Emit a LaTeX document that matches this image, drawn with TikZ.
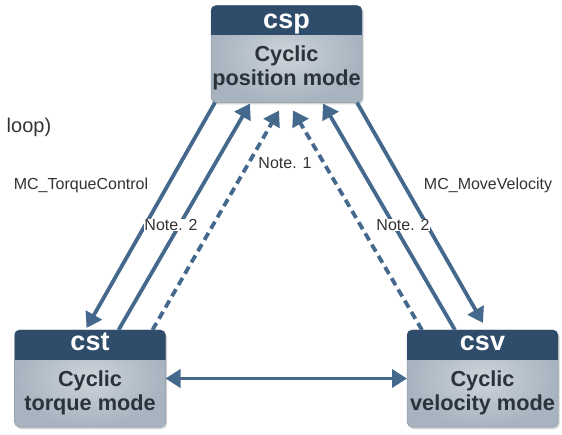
\documentclass[tikz,border=0pt]{standalone}
\usepackage{fontspec}
\setmainfont{Liberation Sans}
\usetikzlibrary{arrows.meta,shadows}
\definecolor{headcol}{HTML}{2F4D6B}
\definecolor{bodyin}{HTML}{CDD4DB}
\definecolor{bodyout}{HTML}{A7B3BF}
\definecolor{arrcol}{HTML}{44698D}
\definecolor{txtcol}{HTML}{2A323B}
\definecolor{lblcol}{HTML}{333333}
\definecolor{edgecol}{HTML}{8B98A5}
\tikzset{
 modebox/.style={rectangle, rounded corners=5pt, minimum width=151pt, minimum height=97pt,
   inner sep=0pt, outer sep=0pt, draw=edgecol, line width=0.5pt,
   inner color=bodyin, outer color=bodyout,
   drop shadow={shadow xshift=1.5pt, shadow yshift=-2pt, opacity=0.35}},
 headtext/.style={text=white, font=\fontsize{27}{29}\selectfont\bfseries, anchor=base, inner sep=0pt},
 bodytext/.style={text=txtcol, font=\fontsize{21.7}{24}\selectfont\bfseries, anchor=base, inner sep=0pt},
 lbl/.style={text=lblcol, font=\fontsize{16}{18}\selectfont, inner sep=0.5pt},
 tip/.style={Triangle[length=15pt,width=18pt]},
 conn/.style={draw=arrcol, line width=3.8pt, -{Triangle[length=15pt,width=18pt]}},
 dconn/.style={conn, dash pattern=on 8pt off 5pt},
 bconn/.style={draw=arrcol, line width=3.8pt, {Triangle[length=15pt,width=18pt]}-{Triangle[length=15pt,width=18pt]}},
}
\begin{document}
\begin{tikzpicture}[x=1pt,y=-1pt]
\useasboundingbox (0,0) rectangle (562,435);
% boxes
\node[modebox] (csp) at (286.5,54) {};
\node[modebox] (cst) at (90,378.5) {};
\node[modebox] (csv) at (482.5,378.5) {};
\foreach \b in {csp,cst,csv}{
  \begin{scope}
    \clip[rounded corners=5pt] (\b.south west) rectangle (\b.north east);
    \fill[headcol] (\b.north west) rectangle ([yshift=-30pt]\b.north east);
  \end{scope}
}
\node[headtext] (csph) at ([yshift=-23pt]csp.north) {csp};
\node[bodytext] (cspa) at ([yshift=-56pt]csp.north) {Cyclic};
\node[bodytext] (cspb) at ([yshift=-80.5pt]csp.north) {position mode};
\node[headtext] (csth) at ([yshift=-21pt]cst.north) {cst};
\node[bodytext] (csta) at ([yshift=-56pt]cst.north) {Cyclic};
\node[bodytext] (cstb) at ([yshift=-80.5pt]cst.north) {torque mode};
\node[headtext] (csvh) at ([yshift=-21pt]csv.north) {csv};
\node[bodytext] (csva) at ([yshift=-56pt]csv.north) {Cyclic};
\node[bodytext] (csvb) at ([yshift=-80.5pt]csv.north) {velocity mode};
% connectors
\draw[conn] ([xshift=4pt]csp.south west) -- ([xshift=72pt,yshift=2pt]cst.north west);
\draw[conn] ([xshift=104pt]cst.north west) -- ([xshift=39pt,yshift=-1pt]csp.south west);
\draw[dconn] ([xshift=138pt]cst.north west) -- ([xshift=68pt,yshift=-8pt]csp.south west);
\draw[dconn] ([xshift=15pt]csv.north west) -- ([xshift=82pt,yshift=-8pt]csp.south west);
\draw[conn] ([xshift=48pt]csv.north west) -- ([xshift=112pt,yshift=-1pt]csp.south west);
\draw[conn] ([xshift=146pt]csp.south west) -- ([xshift=76pt,yshift=7pt]csv.north west);
\draw[bconn] (cst.east) -- (csv.west);
% labels
\node[lbl, anchor=west, font=\fontsize{20}{22}\selectfont] (loop) at (6,127) {loop)};
\node[lbl] (tc) at (81,185) {MC\_TorqueControl};
\node[lbl, fill=white] (n2l) at (171,225) {Note. 2};
\node[lbl] (n1) at (285,163) {Note. 1};
\node[lbl] (mv) at (488,185) {MC\_MoveVelocity};
\node[lbl, fill=white] (n2r) at (403,225) {Note. 2};
\end{tikzpicture}
\end{document}
